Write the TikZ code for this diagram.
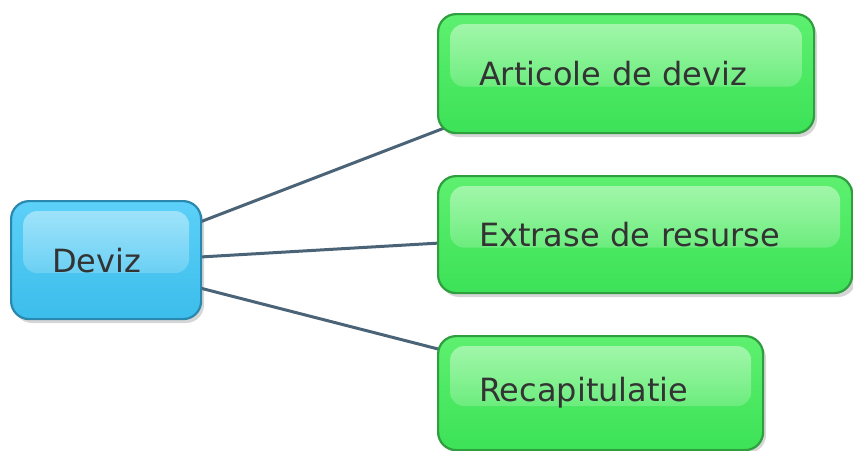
\documentclass[tikz,border=0pt]{standalone}
\usepackage{fontspec}
\setmainfont{DejaVu Sans}
\usetikzlibrary{fadings}
\definecolor{bluefill}{HTML}{3CBDEB}
\definecolor{bluetop}{HTML}{5CD0F8}
\definecolor{blueedge}{HTML}{2A88AE}
\definecolor{bluegloss}{HTML}{C4EEFD}
\definecolor{greenfill}{HTML}{3CE257}
\definecolor{greentop}{HTML}{5EF070}
\definecolor{greenedge}{HTML}{2E9E3E}
\definecolor{greengloss}{HTML}{C8FBCB}
\definecolor{linkcol}{HTML}{4B6377}
\definecolor{textcol}{HTML}{333333}
\tikzset{
  topic/.style={rectangle, rounded corners=18pt, line width=2.2pt, anchor=north west,
    inner xsep=41pt, inner ysep=0pt, align=left, text=textcol,
    font=\fontsize{32}{36}\selectfont},
  glossy/.style={path picture={
    \fill[fill=#1, fill opacity=0.7, rounded corners=14pt, path fading=south]
      ([xshift=12pt,yshift=-10pt]path picture bounding box.north west)
      rectangle ([xshift=-12pt,yshift=-13pt]path picture bounding box.east);
  }},
  bluetopic/.style={topic, draw=blueedge, top color=bluetop, bottom color=bluefill, glossy=bluegloss},
  greentopic/.style={topic, draw=greenedge, top color=greentop, bottom color=greenfill, glossy=greengloss},
  link/.style={draw=linkcol, line width=3pt},
  shadowbox/.style={fill=black, opacity=0.16, rounded corners=18pt},
}
\begin{document}
\begin{tikzpicture}[x=1pt,y=-1pt]
\useasboundingbox[fill=white] (0,0) rectangle (853,450);
% shadows
\fill[shadowbox] (14,205) rectangle (204,323);
\fill[shadowbox] (441,18) rectangle (817,137);
\fill[shadowbox] (441,180) rectangle (856,297);
\fill[shadowbox] (441,340) rectangle (766,453);
% link end points
\coordinate (d1) at (200,222);
\coordinate (d2) at (200,257);
\coordinate (d3) at (200,288);
\coordinate (a1) at (447,127);
\coordinate (e1) at (440,243);
\coordinate (r1) at (442,350);
% links
\draw[link] (d1) -- (a1);
\draw[link] (d2) -- (e1);
\draw[link] (d3) -- (r1);
% nodes
\node[bluetopic, minimum width=190pt, minimum height=118pt, text width=108pt] (deviz) at (10,200) {Deviz};
\node[greentopic, minimum width=376pt, minimum height=119pt, text width=294pt] (art) at (437,13) {Articole de deviz};
\node[greentopic, minimum width=414pt, minimum height=117pt, text width=332pt] (ext) at (437,175) {Extrase de resurse};
\node[greentopic, minimum width=325pt, minimum height=114pt, text width=243pt] (rec) at (437,335) {Recapitulatie};
\end{tikzpicture}
\end{document}
